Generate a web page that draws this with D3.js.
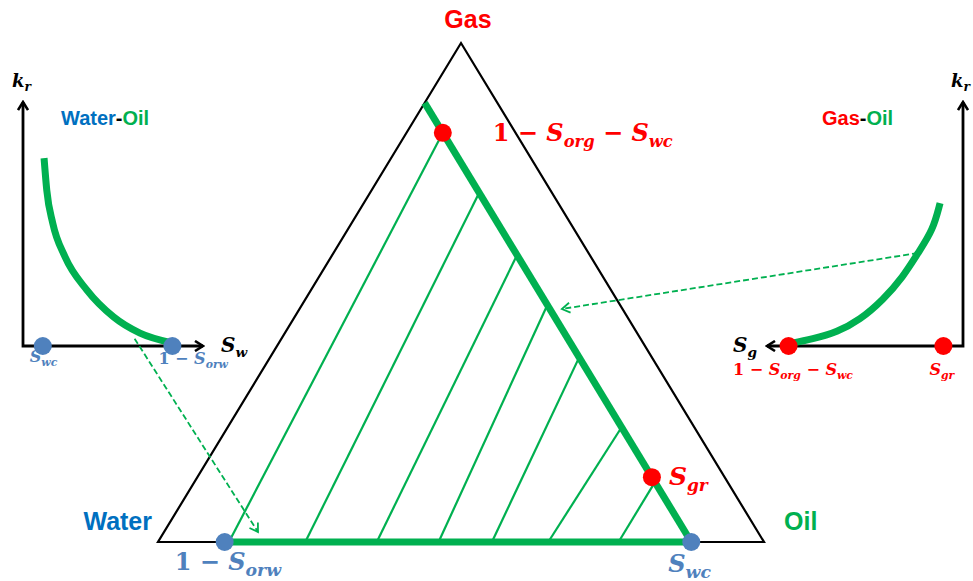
<!DOCTYPE html>
<html>
<head>
<meta charset="utf-8">
<script src="https://cdn.jsdelivr.net/npm/d3@7"></script>
<style>
  body { margin: 0; background: #fff; }
  text { font-family: "Liberation Sans", Arial, sans-serif; }
  .math { font-family: "DejaVu Serif", "Liberation Serif", serif; font-weight: bold; font-style: italic; }
</style>
</head>
<body>
<svg id="chart" width="973" height="581"></svg>
<script>
// Ternary relative permeability sketch -- water/oil/gas

// end points (saturations)
var Swc = 0.12;   // connate water
var Sorw = 0.11;  // residual oil to water
var Sorg = 0.06;  // residual oil to gas
var Sgr = 0.13;   // residual gas

// tie lines: gas saturation on the Sw = Swc line -> oil saturation on the water-oil edge
var tieTopSg = [0.82, 0.70, 0.575, 0.475, 0.37, 0.23, 0.12];
var tieBottomSo = [0.117, 0.243, 0.361, 0.463, 0.551, 0.644, 0.76];

// water-oil panel: kro vs Sw
var woSw = [0.117, 0.132, 0.165, 0.233, 0.354, 0.502, 0.65, 0.822];
var woKr = [0.77, 0.639, 0.504, 0.366, 0.23, 0.12, 0.053, 0.014];
var woMarks = [0.11, 0.83]; // Swc, 1 - Sorw

// gas-oil panel: kro vs Sg
var goSg = [0.893, 0.765, 0.643, 0.526, 0.408, 0.306, 0.23, 0.153, 0.117];
var goKr = [0.008, 0.029, 0.057, 0.107, 0.189, 0.283, 0.381, 0.475, 0.586];
var goMarks = [0.10, 0.89]; // Sgr, 1 - Sorg - Swc

var GREEN = "#00b050", RED = "#ff0000", BLUE = "#0070c0", DOT = "#4f81bd";

var svg = d3.select("#chart");

// arrow heads
var defs = svg.append("defs");
function chevron(id, color, w) {
  defs.append("marker")
    .attr("id", id)
    .attr("viewBox", "-10 -6 12 12")
    .attr("refX", 0).attr("refY", 0)
    .attr("markerWidth", 12).attr("markerHeight", 12)
    .attr("markerUnits", "userSpaceOnUse")
    .attr("orient", "auto-start-reverse")
    .append("path")
    .attr("d", "M-8,-5 L0,0 L-8,5")
    .attr("fill", "none")
    .attr("stroke", color)
    .attr("stroke-width", w);
}
chevron("axisArrow", "#000", 2.6);
chevron("dashArrow", GREEN, 1.8);

// math label: parts = [[text, isSub, isUpright]]
function mathLabel(x, y, parts, size, color, subScale) {
  var t = svg.append("text").attr("class", "math")
    .attr("x", x).attr("y", y).attr("fill", color).attr("font-size", size);
  var shift = 0;
  parts.forEach(function (p) {
    var sub = p[1];
    var target = sub ? size * 0.24 : 0;
    t.append("tspan")
      .attr("dy", target - shift)
      .attr("font-size", sub ? size * (subScale || 0.68) : size)
      .attr("font-style", p[2] ? "normal" : "italic")
      .text(p[0]);
    shift = target;
  });
  return t;
}

///////////////////////////////////////////////////////////////////////////////
// Ternary diagram

var tx = d3.scaleLinear().domain([0, 1]).range([158, 764]);
var ty = d3.scaleLinear().domain([0, 1]).range([542, 43]);
var tern = function (sw, so, sg) { return [tx(so + sg / 2), ty(sg)]; };

svg.append("path")
  .attr("d", d3.line()([tern(1, 0, 0), tern(0, 1, 0), tern(0, 0, 1)]) + "Z")
  .attr("fill", "none").attr("stroke", "#000").attr("stroke-width", 2.2)
  .attr("stroke-linejoin", "miter");

// tie lines
svg.append("g").selectAll("line")
  .data(d3.range(tieTopSg.length))
  .enter().append("line")
  .attr("x1", function (i) { return tern(1 - tieBottomSo[i], tieBottomSo[i], 0)[0]; })
  .attr("y1", function (i) { return tern(1 - tieBottomSo[i], tieBottomSo[i], 0)[1]; })
  .attr("x2", function (i) { return tern(Swc, 1 - Swc - tieTopSg[i], tieTopSg[i])[0]; })
  .attr("y2", function (i) { return tern(Swc, 1 - Swc - tieTopSg[i], tieTopSg[i])[1]; })
  .attr("stroke", GREEN).attr("stroke-width", 2.2);

// Sw = Swc line and water-oil edge segment
svg.append("path")
  .attr("d", d3.line()([tern(Swc, 0, 1 - Swc), tern(Swc, 1 - Swc, 0)]))
  .attr("stroke", GREEN).attr("stroke-width", 7).attr("fill", "none");
svg.append("path")
  .attr("d", d3.line()([tern(1 - Sorw, Sorw, 0), tern(Swc, 1 - Swc, 0)]))
  .attr("stroke", GREEN).attr("stroke-width", 7).attr("fill", "none");

// end point dots
var pOrg = tern(Swc, Sorg, 1 - Sorg - Swc);
var pGr = tern(Swc, 1 - Swc - Sgr, Sgr);
var pWc = tern(Swc, 1 - Swc, 0);
var pOrw = tern(1 - Sorw, Sorw, 0);
[[pOrg, RED], [pGr, RED], [pWc, DOT], [pOrw, DOT]].forEach(function (d) {
  svg.append("circle").attr("cx", d[0][0]).attr("cy", d[0][1]).attr("r", 9).attr("fill", d[1]);
});

// corner labels
svg.append("text").attr("x", tern(0, 0, 1)[0] + 7).attr("y", 28).attr("text-anchor", "middle")
  .attr("font-size", 25).attr("font-weight", "bold").attr("fill", RED).text("Gas");
svg.append("text").attr("x", 152).attr("y", 530).attr("text-anchor", "end")
  .attr("font-size", 25).attr("font-weight", "bold").attr("fill", BLUE).text("Water");
svg.append("text").attr("x", 784).attr("y", 530)
  .attr("font-size", 25).attr("font-weight", "bold").attr("fill", GREEN).text("Oil");

mathLabel(pOrg[0] + 50, pOrg[1] + 8, [["1 − ", 0, 1], ["S", 0], ["org", 1], [" − ", 0, 1], ["S", 0], ["wc", 1]], 24, RED);
mathLabel(pGr[0] + 17, pGr[1] + 8, [["S", 0], ["gr", 1]], 25, RED);
mathLabel(pWc[0] - 23, 572, [["S", 0], ["wc", 1]], 24, DOT, 0.72);
mathLabel(pOrw[0] - 50, 570, [["1 − ", 0, 1], ["S", 0], ["orw", 1]], 24, DOT, 0.72);

///////////////////////////////////////////////////////////////////////////////
// Water-oil panel

var wx = d3.scaleLinear().domain([0, 1]).range([23, 203]);
var wy = d3.scaleLinear().domain([0, 1]).range([346, 102]);

svg.append("path")
  .attr("d", d3.line()([[wx(0), wy(1)], [wx(0), wy(0)], [wx(1), wy(0)]]))
  .attr("fill", "none").attr("stroke", "#000").attr("stroke-width", 2.8)
  .attr("marker-start", "url(#axisArrow)").attr("marker-end", "url(#axisArrow)");

svg.append("path")
  .datum(d3.range(woSw.length))
  .attr("d", d3.line().curve(d3.curveMonotoneX)
    .x(function (i) { return wx(woSw[i]); })
    .y(function (i) { return wy(woKr[i]); }))
  .attr("fill", "none").attr("stroke", GREEN).attr("stroke-width", 7);

svg.append("g").selectAll("circle").data(woMarks).enter().append("circle")
  .attr("cx", function (d) { return wx(d); }).attr("cy", wy(0)).attr("r", 9).attr("fill", DOT);

var t1 = svg.append("text").attr("x", 61).attr("y", 125).attr("font-size", 20).attr("font-weight", "bold");
t1.append("tspan").attr("fill", BLUE).text("Water");
t1.append("tspan").attr("fill", "#000").text("-");
t1.append("tspan").attr("fill", GREEN).text("Oil");

mathLabel(12, 87, [["k", 0], ["r", 1]], 18, "#000");
mathLabel(221, 352, [["S", 0], ["w", 1]], 20, "#000");
mathLabel(wx(woMarks[0]) - 13, 362, [["S", 0], ["wc", 1]], 16, DOT);
mathLabel(wx(woMarks[1]) - 14, 364, [["1 − ", 0, 1], ["S", 0], ["orw", 1]], 16, DOT);

///////////////////////////////////////////////////////////////////////////////
// Gas-oil panel

var gx = d3.scaleLinear().domain([0, 1]).range([963, 767]);
var gy = d3.scaleLinear().domain([0, 1]).range([346, 102]);

svg.append("path")
  .attr("d", d3.line()([[gx(0), gy(1)], [gx(0), gy(0)], [gx(1), gy(0)]]))
  .attr("fill", "none").attr("stroke", "#000").attr("stroke-width", 2.8)
  .attr("marker-start", "url(#axisArrow)").attr("marker-end", "url(#axisArrow)");

svg.append("path")
  .datum(d3.range(goSg.length))
  .attr("d", d3.line().curve(d3.curveBasis)
    .x(function (i) { return gx(goSg[i]); })
    .y(function (i) { return gy(goKr[i]); }))
  .attr("fill", "none").attr("stroke", GREEN).attr("stroke-width", 7);

svg.append("g").selectAll("circle").data(goMarks).enter().append("circle")
  .attr("cx", function (d) { return gx(d); }).attr("cy", gy(0)).attr("r", 9).attr("fill", RED);

var t2 = svg.append("text").attr("x", 822).attr("y", 125).attr("font-size", 20).attr("font-weight", "bold");
t2.append("tspan").attr("fill", RED).text("Gas");
t2.append("tspan").attr("fill", "#000").text("-");
t2.append("tspan").attr("fill", GREEN).text("Oil");

mathLabel(951, 87, [["k", 0], ["r", 1]], 18, "#000");
mathLabel(733, 352, [["S", 0], ["g", 1]], 20, "#000");
mathLabel(gx(goMarks[0]) - 14, 375, [["S", 0], ["gr", 1]], 16, RED);
mathLabel(733, 375, [["1 − ", 0, 1], ["S", 0], ["org", 1], [" − ", 0, 1], ["S", 0], ["wc", 1]], 16, RED);

///////////////////////////////////////////////////////////////////////////////
// Dashed connectors from the panels into the triangle

var woFrom = [wx(0.62), wy(0.03)];
var woTo = tern(0.825, 0.155, 0.02);
var goFrom = [gx(0.23), gy(0.381)];
var goTo = tern(0.10, 0.433, 0.467);

[[woFrom, woTo], [goFrom, goTo]].forEach(function (d) {
  svg.append("path")
    .attr("d", d3.line()(d))
    .attr("fill", "none").attr("stroke", GREEN).attr("stroke-width", 1.8)
    .attr("stroke-dasharray", "6,3")
    .attr("marker-end", "url(#dashArrow)");
});
</script>
</body>
</html>
